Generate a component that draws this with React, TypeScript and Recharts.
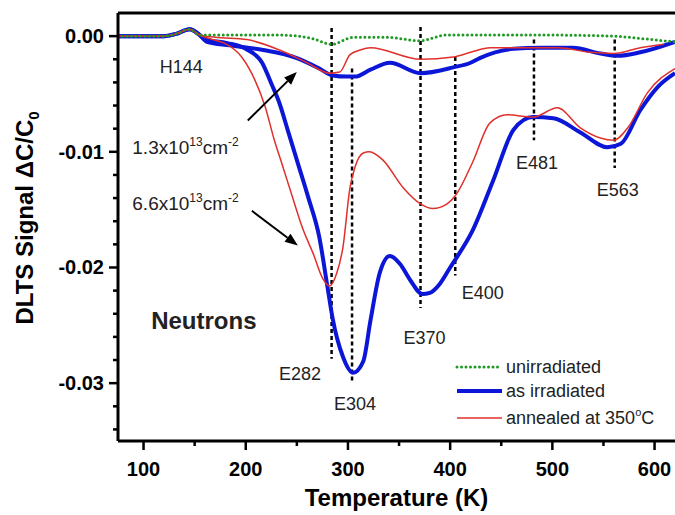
import React from 'react';
import { LineChart, Line, XAxis, YAxis, ReferenceLine, ReferenceDot, Legend } from 'recharts';

type Pt = [number, number];

// [temperature K, DLTS signal dC/C0]
const unirradiated: Pt[] = [
  [75, 0], [100, 0], [120, 0], [132, 0.0002], [145, 0.0006], [155, 0.0001], [170, 0.0001],
  [233, 0.0001], [265, -0.0002], [284, -0.0007], [305, -0.0001], [338, -0.0001], [370, -0.0004],
  [397, 0.0001], [488, 0.0001], [560, 0], [586, -0.0002], [620, -0.0005],
];

const irradiatedLow: Pt[] = [
  [75, 0], [100, 0], [120, 0], [132, 0.0002], [145, 0.0006], [155, 0.0001], [162, -0.0005],
  [184, -0.0008], [217, -0.0012], [250, -0.0019], [272, -0.0028], [285, -0.0034], [299, -0.0035],
  [307, -0.0035], [322, -0.0029], [341, -0.0023], [371, -0.0032], [403, -0.0027], [420, -0.0023],
  [429, -0.0019], [462, -0.0011], [488, -0.001], [520, -0.001], [547, -0.0015], [564, -0.0017],
  [586, -0.0014], [620, -0.0005],
];

const irradiatedHigh: Pt[] = [
  [75, 0], [100, 0], [120, 0], [132, 0.0002], [145, 0.0006], [155, 0.0001], [160, -0.0003],
  [182, -0.0006], [202, -0.0012], [216, -0.0023], [225, -0.0041], [233, -0.0058], [241, -0.0081],
  [251, -0.011], [261, -0.0139], [272, -0.0174], [280, -0.0217], [285, -0.0244], [295, -0.0277],
  [305, -0.0291], [315, -0.0281], [322, -0.0246], [331, -0.0205], [341, -0.019], [351, -0.0197],
  [361, -0.0211], [373, -0.0223], [380, -0.0222], [390, -0.0214], [400, -0.02], [422, -0.0168],
  [442, -0.0125], [462, -0.0081], [481, -0.007], [501, -0.0071], [527, -0.0083], [554, -0.0096],
  [567, -0.0093], [586, -0.0064], [603, -0.0044], [620, -0.0032],
];

const annealedLow: Pt[] = [
  [75, 0], [100, 0], [120, 0], [132, 0.0002], [145, 0.0006], [155, 0.0001], [170, -0.0001],
  [201, -0.0003], [233, -0.0012], [260, -0.0023], [282, -0.0032], [292, -0.0031], [302, -0.0016],
  [312, -0.0012], [322, -0.001], [371, -0.002], [403, -0.0018], [420, -0.0014], [439, -0.001],
  [472, -0.001], [505, -0.001], [537, -0.0014], [560, -0.0015], [586, -0.001], [609, -0.0007],
];

const annealedHigh: Pt[] = [
  [75, 0], [100, 0], [120, 0], [132, 0.0002], [145, 0.0006], [155, 0.0001], [168, -0.0003],
  [179, -0.0006], [196, -0.0018], [209, -0.0038], [219, -0.0061], [228, -0.009], [236, -0.0112],
  [246, -0.014], [256, -0.0167], [266, -0.0188], [275, -0.0209], [282, -0.0216], [289, -0.0205],
  [295, -0.0183], [302, -0.0131], [307, -0.0113], [315, -0.0101], [321, -0.01], [334, -0.0107],
  [354, -0.0131], [371, -0.0145], [383, -0.0149], [397, -0.0145], [405, -0.0138], [422, -0.0109],
  [439, -0.0075], [456, -0.0068], [481, -0.007], [505, -0.0062], [527, -0.0079], [547, -0.0088],
  [560, -0.009], [574, -0.0079], [593, -0.0049], [620, -0.0028],
];

const xTicks = [100, 150, 200, 250, 300, 350, 400, 450, 500, 550, 600];
const yTicks = [
  0, -0.002, -0.004, -0.006, -0.008, -0.01, -0.012, -0.014, -0.016, -0.018, -0.02,
  -0.022, -0.024, -0.026, -0.028, -0.03, -0.032, -0.034,
];

// trap levels: name, temperature of the dashed marker, marker top/bottom, label position
const levels = [
  { name: 'E282', t: 284, top: 0.0007, bottom: -0.0279, lt: 253, lv: -0.0292 },
  { name: 'E304', t: 304, top: -0.0028, bottom: -0.0298, lt: 307, lv: -0.0318 },
  { name: 'E370', t: 371, top: 0.0008, bottom: -0.0235, lt: 375, lv: -0.0261 },
  { name: 'E400', t: 405, top: -0.0018, bottom: -0.0207, lt: 432, lv: -0.0222 },
  { name: 'E481', t: 482, top: -0.0003, bottom: -0.009, lt: 485, lv: -0.0109 },
  { name: 'E563', t: 561, top: -0.0003, bottom: -0.0114, lt: 564, lv: -0.0133 },
];

const fluences = [
  { base: '1.3x10', t: 89, v: -0.0096, from: [202, -0.0073], to: [250, -0.0031] },
  { base: '6.6x10', t: 89, v: -0.0144, from: [206, -0.0151], to: [251, -0.0181] },
];

const FONT = 'Arial, "Liberation Sans", sans-serif';
const BLUE = '#0c16d6';
const RED = '#e0302c';
const GREEN = '#1e9a24';

const legendItems = [
  { label: 'unirradiated', color: GREEN, width: 3, dash: '0 4.5' },
  { label: 'as irradiated', color: BLUE, width: 4, dash: undefined },
  { label: 'annealed at 350', color: RED, width: 1.5, dash: undefined },
];

const XTick = (props: any) => {
  const { x, y, payload } = props;
  const major = payload.value % 100 === 0;
  return (
    <g>
      <line x1={x} x2={x} y1={y} y2={y + (major ? 9 : 5)} stroke="#000" strokeWidth={2.5} />
      {major && (
        <text x={x} y={y + 35} textAnchor="middle" fontSize={20} fontWeight="bold" fontFamily={FONT} fill="#000">
          {payload.value}
        </text>
      )}
    </g>
  );
};

const YTick = (props: any) => {
  const { x, y, payload } = props;
  const v = payload.value;
  const major = Math.abs(v * 100 - Math.round(v * 100)) < 1e-6;
  return (
    <g>
      <line x1={x - (major ? 9 : 5)} x2={x} y1={y} y2={y} stroke="#000" strokeWidth={2.5} />
      {major && (
        <text x={x - 14} y={y + 7} textAnchor="end" fontSize={20} fontWeight="bold" fontFamily={FONT} fill="#000">
          {Math.abs(v) < 1e-9 ? '0.00' : v.toFixed(2)}
        </text>
      )}
    </g>
  );
};

const XTitle = (props: any) => {
  const vb = props.viewBox;
  return (
    <text x={vb.x + vb.width / 2} y={vb.y + 65} textAnchor="middle" fontSize={24} fontWeight="bold" fontFamily={FONT} fill="#000">
      Temperature (K)
    </text>
  );
};

const YTitle = (props: any) => {
  const vb = props.viewBox;
  const cx = 33;
  const cy = vb.y + vb.height / 2 - 9;
  return (
    <text x={cx} y={cy} transform={`rotate(-90 ${cx} ${cy})`} textAnchor="middle" fontSize={24} fontWeight="bold" fontFamily={FONT} fill="#000">
      {'DLTS Signal  \u0394C/C'}
      <tspan fontSize={15} dy={6}>0</tspan>
    </text>
  );
};

const Arrow = (props: any) => {
  const { x1, y1, x2, y2 } = props;
  const a = Math.atan2(y2 - y1, x2 - x1);
  const len = 13;
  const w = 5;
  const bx = x2 - len * Math.cos(a);
  const by = y2 - len * Math.sin(a);
  const px = -Math.sin(a) * w;
  const py = Math.cos(a) * w;
  return (
    <g>
      <line x1={x1} y1={y1} x2={bx} y2={by} stroke="#000" strokeWidth={2} />
      <polygon points={`${x2},${y2} ${bx + px},${by + py} ${bx - px},${by - py}`} fill="#000" />
    </g>
  );
};

const plain = (text: string, size = 18, bold = false) => (props: any) => {
  const vb = props.viewBox;
  return (
    <text x={vb.x} y={vb.y + size * 0.35} textAnchor="middle" fontSize={size} fontWeight={bold ? 'bold' : 'normal'} fontFamily={FONT} fill="#222">
      {text}
    </text>
  );
};

const fluenceLabel = (base: string) => (props: any) => {
  const vb = props.viewBox;
  return (
    <text x={vb.x} y={vb.y + 7} textAnchor="start" fontSize={19} fontFamily={FONT} fill="#222">
      {base}
      <tspan fontSize={12} dy={-8}>13</tspan>
      <tspan fontSize={19} dy={8}>cm</tspan>
      <tspan fontSize={12} dy={-8}>-2</tspan>
    </text>
  );
};

const LegendBox = () => (
  <svg width={220} height={80} style={{ display: 'block' }}>
    {legendItems.map((it, i) => {
      const y = [15, 39, 66][i];
      return (
        <g key={it.label}>
          <line x1={2} x2={47} y1={y} y2={y} stroke={it.color} strokeWidth={it.width} strokeDasharray={it.dash} strokeLinecap={it.dash ? 'round' : 'butt'} />
          <text x={51} y={y + 6} fontSize={18} fontFamily={FONT} fill="#222">
            {it.label}
            {i === 2 && (
              <>
                <tspan fontSize={11} dy={-8}>o</tspan>
                <tspan fontSize={18} dy={8}>C</tspan>
              </>
            )}
          </text>
        </g>
      );
    })}
  </svg>
);

const toRows = (pts: Pt[]) => pts.map(([t, v]) => ({ t, v }));

export default function App() {
  return (
    <div style={{ position: 'absolute', left: 0, top: 0, background: '#fff' }}>
      <LineChart width={675} height={515} margin={{ top: 13, right: 0, bottom: 0, left: 0 }}>
        <XAxis
          dataKey="t"
          type="number"
          domain={[75, 620]}
          allowDataOverflow
          ticks={xTicks}
          tickSize={0}
          tickMargin={0}
          tick={<XTick />}
          height={74}
          axisLine={{ stroke: '#000', strokeWidth: 3 }}
          label={{ content: XTitle }}
        />
        <YAxis
          type="number"
          domain={[-0.035, 0.002]}
          allowDataOverflow
          ticks={yTicks}
          tickSize={0}
          tickMargin={0}
          tick={<YTick />}
          width={118}
          axisLine={{ stroke: '#000', strokeWidth: 3 }}
          label={{ content: YTitle }}
        />
        <ReferenceLine y={0.002} stroke="#000" strokeWidth={3} />

        {levels.map((l) => (
          <ReferenceLine
            key={l.name}
            segment={[{ x: l.t, y: l.top }, { x: l.t, y: l.bottom }]}
            stroke="#000"
            strokeWidth={2.5}
            strokeDasharray="4 3"
          />
        ))}

        <Line data={toRows(irradiatedHigh)} dataKey="v" name="as irradiated" stroke={BLUE} strokeWidth={4} dot={false} type="monotone" isAnimationActive={false} />
        <Line data={toRows(irradiatedLow)} dataKey="v" name="as irradiated low" stroke={BLUE} strokeWidth={4} dot={false} type="monotone" isAnimationActive={false} legendType="none" />
        <Line data={toRows(annealedHigh)} dataKey="v" name="annealed at 350C" stroke={RED} strokeWidth={1.5} dot={false} type="monotone" isAnimationActive={false} />
        <Line data={toRows(annealedLow)} dataKey="v" name="annealed low" stroke={RED} strokeWidth={1.5} dot={false} type="monotone" isAnimationActive={false} legendType="none" />
        <Line data={toRows(unirradiated)} dataKey="v" name="unirradiated" stroke={GREEN} strokeWidth={3} strokeDasharray="0 4.5" strokeLinecap="round" dot={false} type="monotone" isAnimationActive={false} />

        {fluences.map((f) => (
          <ReferenceLine
            key={f.base}
            segment={[{ x: f.from[0], y: f.from[1] }, { x: f.to[0], y: f.to[1] }]}
            shape={(p: any) => <Arrow {...p} />}
          />
        ))}
        {fluences.map((f) => (
          <ReferenceDot key={f.base + 'l'} x={f.t} y={f.v} r={0} stroke="none" label={{ content: fluenceLabel(f.base) }} />
        ))}
        {levels.map((l) => (
          <ReferenceDot key={l.name + 'l'} x={l.lt} y={l.lv} r={0} stroke="none" label={{ content: plain(l.name) }} />
        ))}
        <ReferenceDot x={137} y={-0.0026} r={0} stroke="none" label={{ content: plain('H144') }} />
        <ReferenceDot x={159} y={-0.0246} r={0} stroke="none" label={{ content: plain('Neutrons', 24, true) }} />

        <Legend
          layout="horizontal"
          verticalAlign="middle"
          align="center"
          content={LegendBox}
          wrapperStyle={{ left: 455, top: 352, width: 220, height: 80 }}
        />
      </LineChart>
    </div>
  );
}
